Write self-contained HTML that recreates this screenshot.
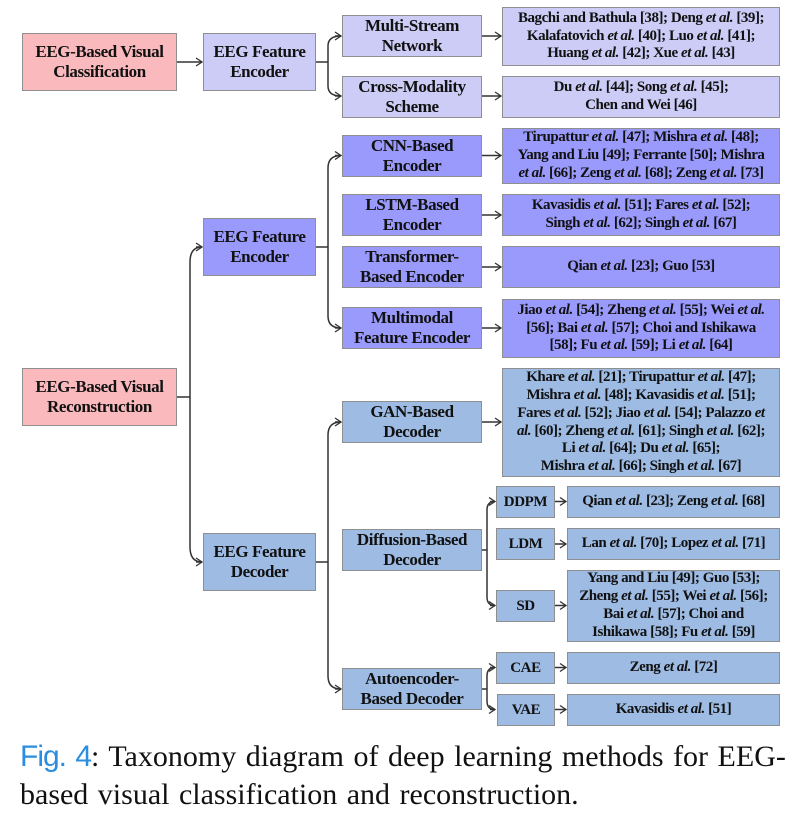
<!DOCTYPE html>
<html><head><meta charset="utf-8"><style>
body{margin:0;background:#fff;width:811px;height:813px;position:relative;overflow:hidden;font-family:"Liberation Serif",serif;}
.b{position:absolute;box-sizing:border-box;border:1.5px solid #8f8f8f;display:flex;align-items:center;justify-content:center;text-align:center;font-weight:bold;color:#111;}
.b>div{width:100%}
.n{font-size:17px;line-height:20px;letter-spacing:-0.4px;}
.r{font-size:15px;line-height:17.8px;letter-spacing:-0.45px;padding:0;white-space:nowrap}
.pk{background:#f9b9bd}.lv{background:#ccccf6}.vi{background:#9a9afd}.bl{background:#9dbbe3}
i{font-style:italic}
svg{position:absolute;left:0;top:0}
.cap{position:absolute;left:20px;top:738px;width:790px;font-size:30px;line-height:38px;color:#111;white-space:nowrap;letter-spacing:0px;word-spacing:2px}
.cap span{font-family:"Liberation Sans",sans-serif;color:#2b8de0;letter-spacing:-1px}
</style></head><body>
<svg width="811" height="813" fill="none" stroke="#333" stroke-width="1.5">
<defs><marker id="a" markerWidth="8" markerHeight="10" refX="7" refY="5" orient="auto" markerUnits="userSpaceOnUse"><path d="M1,1 L7,5 L1,9" stroke="#333" stroke-width="1.3" fill="none"/></marker></defs>
<path d="M176,62 H202" marker-end="url(#a)"/>
<path d="M315,62 H328 M328,62 V46 Q328,36 341,36 M328,62 V86 Q328,96 341,96" />
<path d="M335,36 H341" marker-end="url(#a)"/><path d="M335,96 H341" marker-end="url(#a)"/>
<path d="M481,36 H501" marker-end="url(#a)"/><path d="M481,96 H501" marker-end="url(#a)"/>
<path d="M176,397 H190 M190,397 V262 Q190,247 202,247 M190,397 V547 Q190,562 202,562"/>
<path d="M196,247 H202" marker-end="url(#a)"/><path d="M196,562 H202" marker-end="url(#a)"/>
<path d="M315,247 H328 M328,168 V316 M328,168 Q328,155.5 341,155.5 M328,316 Q328,328 341,328"/>
<path d="M335,155.5 H341" marker-end="url(#a)"/><path d="M335,328 H341" marker-end="url(#a)"/>
<path d="M481,155.5 H501" marker-end="url(#a)"/><path d="M481,215 H501" marker-end="url(#a)"/><path d="M481,267 H501" marker-end="url(#a)"/><path d="M481,328 H501" marker-end="url(#a)"/>
<path d="M315,562 H328 M328,435 V676 M328,435 Q328,422 341,422 M328,676 Q328,689 341,689"/>
<path d="M335,422 H341" marker-end="url(#a)"/><path d="M335,689 H341" marker-end="url(#a)"/>
<path d="M481,422 H501" marker-end="url(#a)"/>
<path d="M481,550 H487 M487,510 V597 M487,510 Q487,501.5 495,501.5 M487,597 Q487,605.5 495,605.5"/>
<path d="M490,501.5 H495" marker-end="url(#a)"/><path d="M490,605.5 H495" marker-end="url(#a)"/>
<path d="M481,689 H487 M487,676 V701 M487,676 Q487,667.5 495,667.5 M487,701 Q487,709.5 495,709.5"/>
<path d="M490,667.5 H495" marker-end="url(#a)"/><path d="M490,709.5 H495" marker-end="url(#a)"/>
<path d="M554,501.5 H566" marker-end="url(#a)"/><path d="M554,544 H566" marker-end="url(#a)"/><path d="M554,605.5 H566" marker-end="url(#a)"/><path d="M554,667.5 H566" marker-end="url(#a)"/><path d="M554,709.5 H566" marker-end="url(#a)"/>
</svg>

<div class="b n pk" style="left:22px;top:33px;width:155px;height:58px"><div>EEG-Based Visual<br>Classification</div></div>
<div class="b n lv" style="left:203px;top:33px;width:113px;height:58px"><div>EEG Feature<br>Encoder</div></div>
<div class="b n lv" style="left:342px;top:15px;width:140px;height:42px"><div>Multi-Stream<br>Network</div></div>
<div class="b n lv" style="left:342px;top:76px;width:140px;height:42px"><div>Cross-Modality<br>Scheme</div></div>
<div class="b r lv" style="left:502px;top:7px;width:278px;height:59px"><div>Bagchi and Bathula [38]; Deng <i>et al.</i> [39];<br>Kalafatovich <i>et al.</i> [40]; Luo <i>et al.</i> [41];<br>Huang <i>et al.</i> [42]; Xue <i>et al.</i> [43]</div></div>
<div class="b r lv" style="left:502px;top:76px;width:278px;height:42px"><div>Du <i>et al.</i> [44]; Song <i>et al.</i> [45];<br>Chen and Wei [46]</div></div>

<div class="b n vi" style="left:203px;top:218px;width:113px;height:58px"><div>EEG Feature<br>Encoder</div></div>
<div class="b n vi" style="left:342px;top:135px;width:140px;height:42px"><div>CNN-Based<br>Encoder</div></div>
<div class="b n vi" style="left:342px;top:194px;width:140px;height:42px"><div>LSTM-Based<br>Encoder</div></div>
<div class="b n vi" style="left:342px;top:246px;width:140px;height:42px"><div>Transformer-<br>Based Encoder</div></div>
<div class="b n vi" style="left:342px;top:307px;width:140px;height:42px"><div>Multimodal<br>Feature Encoder</div></div>
<div class="b r vi" style="left:502px;top:128px;width:278px;height:56px"><div>Tirupattur <i>et al.</i> [47]; Mishra <i>et al.</i> [48];<br>Yang and Liu [49]; Ferrante [50]; Mishra<br><i>et al.</i> [66]; Zeng <i>et al.</i> [68]; Zeng <i>et al.</i> [73]</div></div>
<div class="b r vi" style="left:502px;top:194px;width:278px;height:42px"><div>Kavasidis <i>et al.</i> [51]; Fares <i>et al.</i> [52];<br>Singh <i>et al.</i> [62]; Singh <i>et al.</i> [67]</div></div>
<div class="b r vi" style="left:502px;top:246px;width:278px;height:42px"><div>Qian <i>et al.</i> [23]; Guo [53]</div></div>
<div class="b r vi" style="left:502px;top:299px;width:278px;height:59px"><div>Jiao <i>et al.</i> [54]; Zheng <i>et al.</i> [55]; Wei <i>et al.</i><br>[56]; Bai <i>et al.</i> [57]; Choi and Ishikawa<br>[58]; Fu <i>et al.</i> [59]; Li <i>et al.</i> [64]</div></div>

<div class="b n pk" style="left:22px;top:368px;width:155px;height:58px"><div>EEG-Based Visual<br>Reconstruction</div></div>
<div class="b n bl" style="left:203px;top:533px;width:113px;height:58px"><div>EEG Feature<br>Decoder</div></div>
<div class="b n bl" style="left:342px;top:401px;width:140px;height:42px"><div>GAN-Based<br>Decoder</div></div>
<div class="b n bl" style="left:342px;top:529px;width:140px;height:42px"><div>Diffusion-Based<br>Decoder</div></div>
<div class="b n bl" style="left:342px;top:668px;width:140px;height:42px"><div>Autoencoder-<br>Based Decoder</div></div>
<div class="b r bl" style="left:502px;top:368px;width:278px;height:109px"><div>Khare <i>et al.</i> [21]; Tirupattur <i>et al.</i> [47];<br>Mishra <i>et al.</i> [48]; Kavasidis <i>et al.</i> [51];<br>Fares <i>et al.</i> [52]; Jiao <i>et al.</i> [54]; Palazzo <i>et</i><br><i>al.</i> [60]; Zheng <i>et al.</i> [61]; Singh <i>et al.</i> [62];<br>Li <i>et al.</i> [64]; Du <i>et al.</i> [65];<br>Mishra <i>et al.</i> [66]; Singh <i>et al.</i> [67]</div></div>
<div class="b n bl" style="left:496px;top:486px;width:59px;height:32px;font-size:15px"><div>DDPM</div></div>
<div class="b n bl" style="left:496px;top:528px;width:59px;height:32px;font-size:15px"><div>LDM</div></div>
<div class="b n bl" style="left:496px;top:590px;width:59px;height:32px;font-size:15px"><div>SD</div></div>
<div class="b n bl" style="left:496px;top:652px;width:59px;height:32px;font-size:15px"><div>CAE</div></div>
<div class="b n bl" style="left:497px;top:694px;width:58px;height:32px;font-size:15px"><div>VAE</div></div>
<div class="b r bl" style="left:567px;top:486px;width:213px;height:32px"><div>Qian <i>et al.</i> [23]; Zeng <i>et al.</i> [68]</div></div>
<div class="b r bl" style="left:567px;top:528px;width:213px;height:32px"><div>Lan <i>et al.</i> [70]; Lopez <i>et al.</i> [71]</div></div>
<div class="b r bl" style="left:567px;top:570px;width:213px;height:72px"><div>Yang and Liu [49]; Guo [53];<br>Zheng <i>et al.</i> [55]; Wei <i>et al.</i> [56];<br>Bai <i>et al.</i> [57]; Choi and<br>Ishikawa [58]; Fu <i>et al.</i> [59]</div></div>
<div class="b r bl" style="left:567px;top:652px;width:213px;height:32px"><div>Zeng <i>et al.</i> [72]</div></div>
<div class="b r bl" style="left:567px;top:694px;width:213px;height:32px"><div>Kavasidis <i>et al.</i> [51]</div></div>

<div class="cap"><span>Fig. 4</span>: Taxonomy diagram of deep learning methods for EEG-<br>based visual classification and reconstruction.</div>
</body></html>
